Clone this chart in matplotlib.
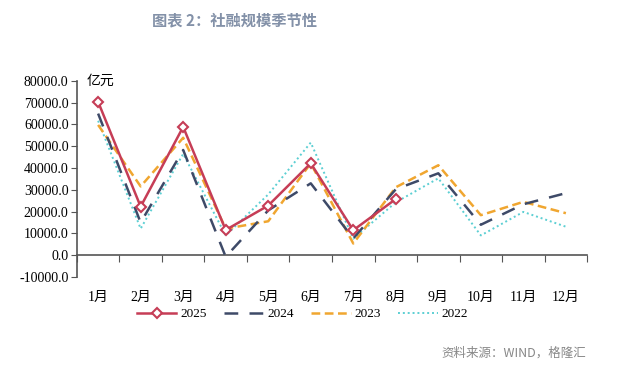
import matplotlib
matplotlib.use("Agg")
import matplotlib.pyplot as plt
import numpy as np

plt.rcParams["font.family"] = ["Liberation Serif", "Noto Sans CJK SC"]

months = ["1月", "2月", "3月", "4月", "5月", "6月", "7月", "8月", "9月", "10月", "11月", "12月"]
y2025 = [70400, 22300, 58900, 11600, 22800, 42200, 11500, 25800]
y2024 = [65000, 15000, 48300, -700, 20600, 33000, 7700, 30300, 37600, 14000, 23400, 28500]
y2023 = [59800, 31600, 53900, 12200, 15600, 42200, 5400, 31200, 41300, 18400, 24500, 19300]
y2022 = [61700, 12200, 46500, 9100, 27900, 51700, 7600, 24300, 35300, 9100, 19900, 13100]
yticks = np.arange(-10000, 80001, 10000)

fig = plt.figure(figsize=(6.3, 3.66), dpi=100)
ax = fig.add_axes([0.122, 0.243, 0.810, 0.536])

x = np.arange(len(months))
ax.plot(x, y2022, color="#5CCFD3", lw=1.4, ls=(0, (1, 1.5)), label="2022", zorder=2)
ax.plot(x, y2023, color="#F0A630", lw=1.8, ls=(0, (3.5, 1.8)), label="2023", zorder=3)
ax.plot(x, y2024, color="#3E4A68", lw=1.8, ls=(0, (5.5, 4.5)), label="2024", zorder=4)
ax.plot(x[:len(y2025)], y2025, color="#C63D56", lw=1.8, marker="D", ms=5.5,
        mfc="white", mec="#C63D56", mew=1.5, label="2025", zorder=5)

ax.set_xlim(-0.5, 11.5)
ax.set_ylim(-10000, 80000)
ax.set_yticks(yticks)
ax.set_yticklabels([f"{v:.1f}" for v in yticks], fontsize=10)

# axis line at zero, ticks between categories, labels pushed to the bottom
ax.spines["bottom"].set_position(("data", 0))
ax.set_xticks(np.arange(-0.5, 12, 1))
ax.set_xticklabels([])
ax.tick_params(axis="x", which="major", direction="out", length=5, color="#555555")
ax.set_xticks(x, minor=True)
ax.set_xticklabels(months, minor=True, fontsize=10)
ax.tick_params(axis="x", which="minor", length=0, pad=26)
ax.tick_params(axis="y", direction="out", length=4, color="#555555", pad=2)
for s in ["top", "right"]:
    ax.spines[s].set_visible(False)
for s in ["left", "bottom"]:
    ax.spines[s].set_color("#555555")
    ax.spines[s].set_linewidth(1.2)

ax.text(0.02, 1.0, "亿元", transform=ax.transAxes, fontsize=10, va="center", ha="left")

handles, labels = ax.get_legend_handles_labels()
order = [3, 2, 1, 0]
fig.legend([handles[i] for i in order], [labels[i] for i in order],
           loc="center", bbox_to_anchor=(0.48, 0.142), ncol=4, frameon=False,
           fontsize=9.5, handlelength=3.0, columnspacing=1.3, handletextpad=0.3)

fig.text(0.373, 0.945, "图表 2：社融规模季节性", fontsize=11, fontweight="bold",
         color="#8391A8", ha="center", va="center", family="Noto Sans CJK SC")
fig.text(0.70, 0.035, "资料来源：WIND，格隆汇", fontsize=9, color="#888888",
         ha="left", va="center", family="Noto Sans CJK SC")

fig.savefig("out.png", dpi=100)
